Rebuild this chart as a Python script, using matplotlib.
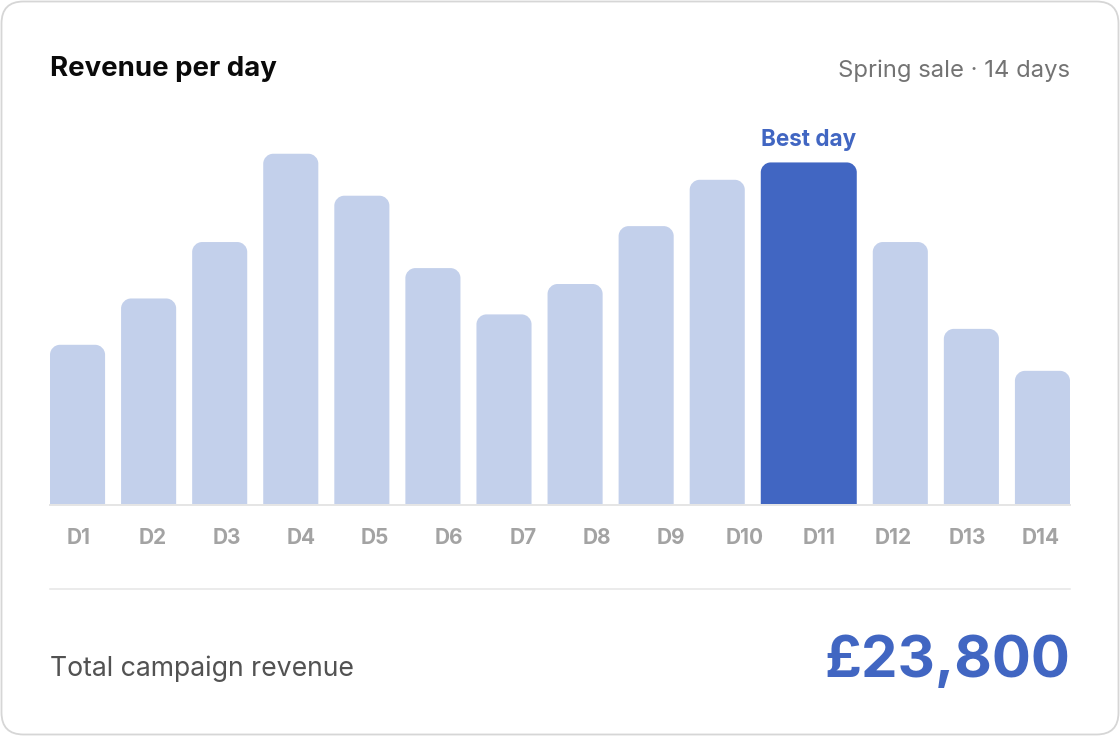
import matplotlib
matplotlib.use("Agg")
import matplotlib.pyplot as plt
import numpy as np
from matplotlib.patches import FancyBboxPatch, PathPatch
from matplotlib.path import Path
from matplotlib.lines import Line2D

# ---------------- data ----------------
days = ["D1", "D2", "D3", "D4", "D5", "D6", "D7", "D8", "D9", "D10", "D11", "D12", "D13", "D14"]
revenue = [1100, 1420, 1810, 2420, 2130, 1630, 1310, 1520, 1920, 2240, 2360, 1810, 1210, 920]
best_day = "D11"
title = "Revenue per day"
subtitle = "Spring sale \u00b7 14 days"
total_label = "Total campaign revenue"
total_value = "\u00a323,800"
best_label = "Best day"

# ---------------- style ----------------
W, H = 1120, 736
plt.rcParams['font.family'] = ['Inter', 'DejaVu Sans']
LIGHT = "#c3d0eb"
DARK = "#4166c2"
GRID = "#e5e5e5"

fig = plt.figure(figsize=(W / 100, H / 100), dpi=100)
fig.patch.set_facecolor("white")

# decoration axes in pixel coordinates (y downward)
deco = fig.add_axes([0, 0, 1, 1], zorder=0)
deco.set_xlim(0, W)
deco.set_ylim(H, 0)
deco.axis("off")

card = FancyBboxPatch((1.5, 1.5), W - 3, H - 3, boxstyle="round,pad=0,rounding_size=22",
                      facecolor="white", edgecolor="#d6d6d6", linewidth=1.3)
deco.add_patch(card)

px = 0.72  # points per pixel at 100 dpi
deco.text(50, 76, title, fontsize=27.6 * px, fontweight="bold", color="#0a0a0a",
          ha="left", va="baseline")
deco.text(1070, 77, subtitle, fontsize=23.8 * px, color="#737373", ha="right", va="baseline")

# baseline & divider
deco.add_line(Line2D([50, 1070], [505, 505], color=GRID, lw=2 * px))
deco.add_line(Line2D([50, 1070], [589, 589], color=GRID, lw=1.5 * px))

deco.text(50, 676, total_label, fontsize=26.7 * px, color="#525252", ha="left", va="baseline")
deco.text(1070, 677, total_value, fontsize=58 * px, fontweight="bold", color=DARK,
          ha="right", va="baseline")

# ---------------- bar chart ----------------
left_px, right_px, base_px, top_px = 50, 1070, 504, 140
ax = fig.add_axes([left_px / W, 1 - base_px / H, (right_px - left_px) / W, (base_px - top_px) / H],
                  zorder=1)
ax.patch.set_alpha(0)
inner = right_px - left_px
ymax = 2515
ax.set_xlim(0, inner)
ax.set_ylim(0, ymax)
for s in ax.spines.values():
    s.set_visible(False)
ax.set_yticks([])

n = len(days)
gap = 16
wide = 96
is_best = [d == best_day for d in days]
normal_w = (inner - gap * (n - 1) - wide * sum(is_best)) / (n - sum(is_best))
widths = np.array([wide if b else normal_w for b in is_best])
lefts = np.concatenate([[0], np.cumsum(widths + gap)[:-1]])
centers = lefts + widths / 2

bars = ax.bar(centers, revenue, width=widths, color=[DARK if b else LIGHT for b in is_best])

# replace with rounded-top shapes
r_px = 10
units_per_px_y = ymax / (base_px - top_px)
for rect in bars:
    x0, y0 = rect.get_x(), rect.get_y()
    w, h = rect.get_width(), rect.get_height()
    rx, ry = r_px, r_px * units_per_px_y
    k = 0.5523
    verts = [(x0, y0), (x0, y0 + h - ry),
             (x0, y0 + h - ry + k * ry), (x0 + rx - k * rx, y0 + h), (x0 + rx, y0 + h),
             (x0 + w - rx, y0 + h),
             (x0 + w - rx + k * rx, y0 + h), (x0 + w, y0 + h - ry + k * ry), (x0 + w, y0 + h - ry),
             (x0 + w, y0), (x0, y0)]
    codes = [Path.MOVETO, Path.LINETO,
             Path.CURVE4, Path.CURVE4, Path.CURVE4,
             Path.LINETO,
             Path.CURVE4, Path.CURVE4, Path.CURVE4,
             Path.LINETO, Path.CLOSEPOLY]
    ax.add_patch(PathPatch(Path(verts, codes), facecolor=rect.get_facecolor(), edgecolor="none"))
    rect.set_visible(False)

# best-day annotation
bi = days.index(best_day)
ax.annotate(best_label, xy=(centers[bi], revenue[bi]), xytext=(0, 16 * px),
            textcoords="offset points", ha="center", va="baseline",
            fontsize=22.5 * px, fontweight="bold", color=DARK, annotation_clip=False)

# day labels: 14 equal columns
col_w = (inner - gap * (n - 1)) / n
label_pos = np.arange(n) * (col_w + gap) + col_w / 2
ax.set_xticks(label_pos)
ax.set_xticklabels(days, fontsize=20.8 * px, fontweight="bold", color="#a3a3a3")
for lab in ax.get_xticklabels():
    lab.set_va("baseline")
ax.tick_params(axis="x", length=0, pad=40 * px)

fig.savefig("out.png", dpi=100, facecolor="white")
